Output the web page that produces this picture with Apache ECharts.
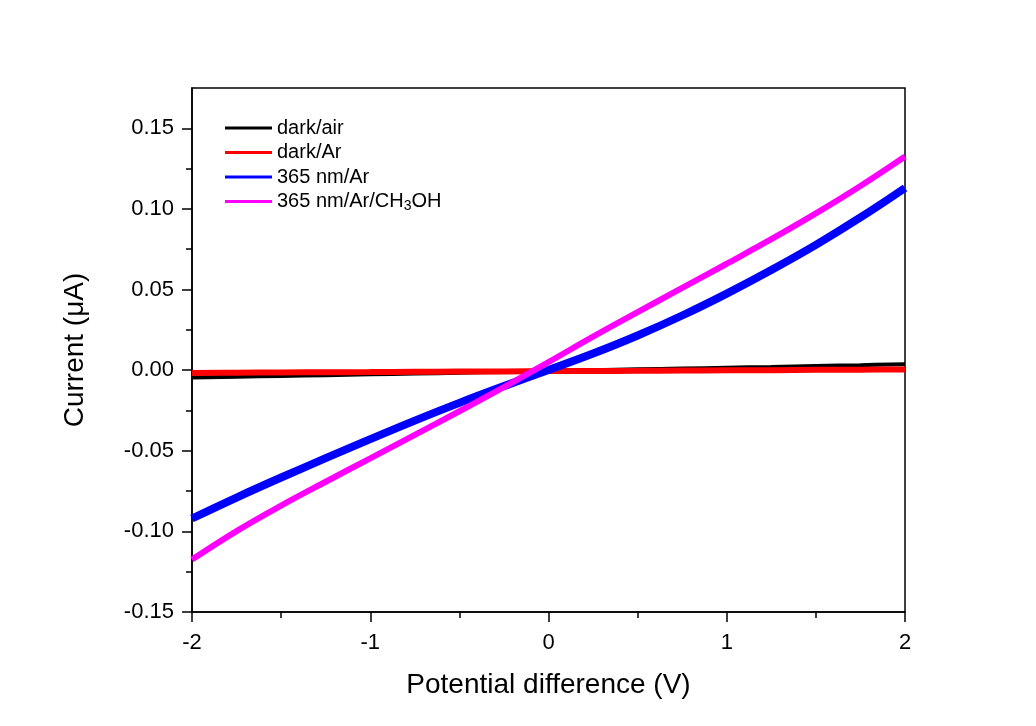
<!DOCTYPE html>
<html>
<head>
<meta charset="utf-8">
<script src="https://cdn.jsdelivr.net/npm/echarts@6/dist/echarts.min.js"></script>
<style>
  html, body { margin: 0; padding: 0; background: #ffffff; }
  #chart { width: 1036px; height: 726px; }
</style>
</head>
<body>
<div id="chart"></div>
<script>
// Bias voltage sweep (V)
const voltage = [-2, -1.75, -1.5, -1.25, -1, -0.75, -0.5, -0.25, 0, 0.25, 0.5, 0.75, 1, 1.25, 1.5, 1.75, 2];

// Measured current (µA) for each condition
const darkAir = [-0.0046, -0.0041, -0.0036, -0.0031, -0.0026, -0.0021, -0.0016, -0.0011, -0.0005, 0.0000, 0.0005, 0.0010, 0.0015, 0.0020, 0.0026, 0.0031, 0.0037];
const darkAr = [-0.0017, -0.0016, -0.0014, -0.0013, -0.0012, -0.0010, -0.0009, -0.0008, -0.0006, -0.0005, -0.0004, -0.0002, -0.0001, 0.0000, 0.0002, 0.0003, 0.0004];
const uvAr = [-0.0920, -0.0790, -0.0666, -0.0546, -0.0428, -0.0313, -0.0203, -0.0099, 0.0001, 0.0103, 0.0215, 0.0339, 0.0475, 0.0621, 0.0777, 0.0947, 0.1130];
const uvArMeOH = [-0.1175, -0.0998, -0.0840, -0.0692, -0.0547, -0.0402, -0.0255, -0.0105, 0.0050, 0.0208, 0.0360, 0.0510, 0.0660, 0.0812, 0.0972, 0.1142, 0.1325];

const seriesNames = ['dark/air', 'dark/Ar', '365 nm/Ar', '365 nm/Ar/CH3OH'];
const seriesColors = ['#000000', '#ff0000', '#0000ff', '#ff00ff'];

// Axis ticks
const xTicks = [-2, -1, 0, 1, 2];
const yMajorTicks = [-0.15, -0.10, -0.05, 0.00, 0.05, 0.10, 0.15];
const yMinorTicks = [-0.125, -0.075, -0.025, 0.025, 0.075, 0.125];

const FONT = '"Liberation Sans", Arial, sans-serif';

function pairs(ys) {
  return voltage.map((v, i) => [v, ys[i]]);
}

const chart = echarts.init(document.getElementById('chart'), null, { renderer: 'canvas' });

const lineWidths = [4, 6, 8, 6];
const allData = [darkAir, darkAr, uvAr, uvArMeOH];

chart.setOption({
  backgroundColor: '#ffffff',
  animation: false,
  grid: {
    left: 192, right: 131, top: 88, bottom: 114,
    show: true, borderColor: '#000', borderWidth: 1.5,
    backgroundColor: 'transparent',
    outerBoundsMode: 'none'
  },
  legend: {
    orient: 'vertical',
    left: 225, top: 116,
    padding: 0,
    icon: 'rect',
    itemWidth: 47, itemHeight: 3, itemGap: 0.5,
    data: seriesNames,
    textStyle: {
      fontFamily: FONT, fontSize: 20, color: '#000', lineHeight: 24,
      rich: {
        sub: { fontFamily: FONT, fontSize: 14, lineHeight: 14, verticalAlign: 'bottom', padding: [10, 0, 0, 0], color: '#000' }
      }
    },
    formatter: name => name.replace('CH3OH', 'CH{sub|3}OH')
  },
  xAxis: {
    type: 'value',
    min: -2, max: 2, interval: 1,
    name: 'Potential difference (V)',
    nameLocation: 'middle',
    nameGap: 59,
    nameTextStyle: { fontFamily: FONT, fontSize: 28, color: '#000' },
    axisLine: { show: true, onZero: false, lineStyle: { color: '#000', width: 1.5 } },
    axisTick: { show: true, inside: false, length: 10, lineStyle: { color: '#000', width: 1.5 } },
    minorTick: { show: true, splitNumber: 2, length: 6, lineStyle: { color: '#000', width: 1.5 } },
    splitLine: { show: false },
    axisLabel: {
      fontFamily: FONT, fontSize: 22, color: '#000', margin: 20,
      formatter: v => String(v)
    }
  },
  yAxis: [
    {
      type: 'value',
      min: -0.15, max: 0.175, interval: 0.05,
      position: 'left',
      name: 'Current (\u03bcA)',
      nameLocation: 'middle',
      nameGap: 103,
      nameTextStyle: { fontFamily: FONT, fontSize: 28, color: '#000' },
      axisLine: { show: true, onZero: false, lineStyle: { color: '#000', width: 1.5 } },
      axisTick: { show: true, inside: false, length: 10, customValues: yMajorTicks, lineStyle: { color: '#000', width: 1.5 } },
      minorTick: { show: false },
      splitLine: { show: false },
      axisLabel: {
        fontFamily: FONT, fontSize: 22, color: '#000', margin: 18,
        customValues: yMajorTicks,
        formatter: v => v.toFixed(2)
      }
    },
    {
      type: 'value',
      min: -0.15, max: 0.175, interval: 0.05,
      position: 'left',
      axisLine: { show: false, onZero: false },
      axisTick: { show: true, inside: false, length: 6, customValues: yMinorTicks, lineStyle: { color: '#000', width: 1.5 } },
      axisLabel: { show: false },
      splitLine: { show: false }
    }
  ],
  series: seriesNames.map((name, i) => ({
    name,
    type: 'line',
    xAxisIndex: 0,
    yAxisIndex: 0,
    data: pairs(allData[i]),
    symbol: 'none',
    smooth: 0.4,
    color: seriesColors[i],
    lineStyle: { color: seriesColors[i], width: lineWidths[i] },
    z: 2 + i
  }))
});
</script>
</body>
</html>
